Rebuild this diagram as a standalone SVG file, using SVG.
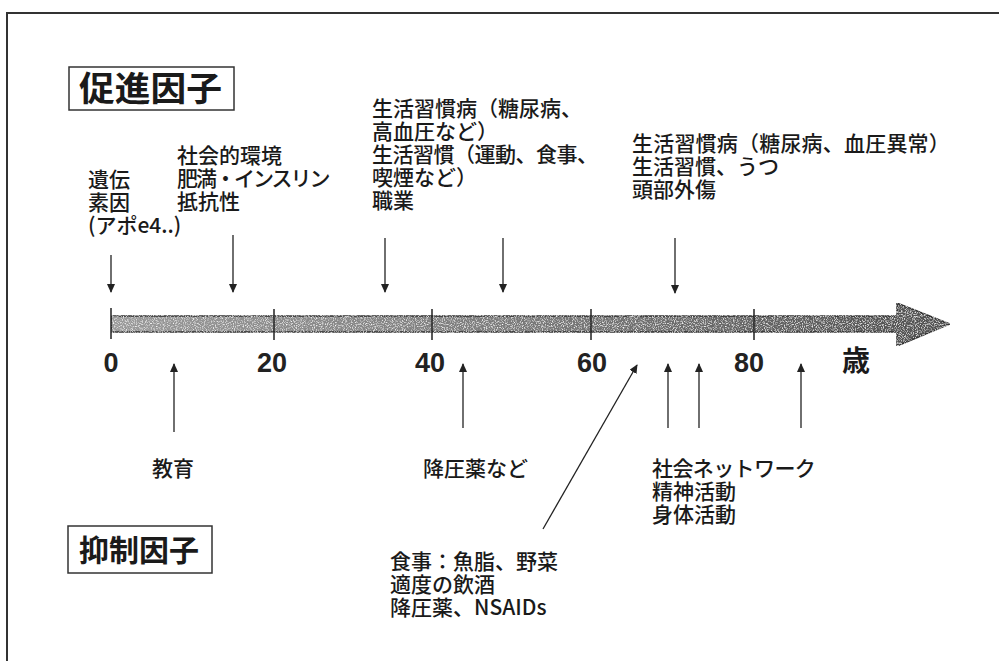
<svg xmlns="http://www.w3.org/2000/svg" width="999" height="661" viewBox="0 0 999 661">
<defs>
<style>
.t{font-family:"Noto Sans CJK JP","Noto Sans",sans-serif;font-size:21px;font-weight:500;fill:#1a1a1a}
.h{font-family:"Noto Sans CJK JP","Noto Sans",sans-serif;font-weight:bold;fill:#1a1a1a}
.n{font-family:"Liberation Sans",Arial,sans-serif;font-weight:bold;font-size:27px;fill:#222;text-anchor:middle}
.c{stroke:#222;stroke-width:1.3;fill:none;marker-end:url(#ah)}
.box{fill:#fff;stroke:#333;stroke-width:1.5}
.tick{stroke:#222;stroke-width:1.5}
</style>
<marker id="ah" markerUnits="userSpaceOnUse" markerWidth="9" markerHeight="8" refX="8" refY="4" orient="auto">
<path d="M0,0 L9,4 L0,8 Z" fill="#222"/>
</marker>
<linearGradient id="bg" x1="0" y1="0" x2="1" y2="0">
<stop offset="0" stop-color="#9a9a9a"/>
<stop offset="0.6" stop-color="#727272"/>
<stop offset="1" stop-color="#505050"/>
</linearGradient>
<filter id="speck" x="0" y="0" width="1" height="1">
<feTurbulence type="fractalNoise" baseFrequency="0.9" numOctaves="2" seed="3" result="n"/>
<feColorMatrix in="n" type="matrix" values="0 0 0 0 1  0 0 0 0 1  0 0 0 0 1  0 0 0 -2.4 1.25" result="w"/>
<feComposite in="w" in2="SourceGraphic" operator="in" result="wi"/>
<feMerge><feMergeNode in="SourceGraphic"/><feMergeNode in="wi"/></feMerge>
</filter>
</defs>
<rect width="999" height="661" fill="#fff"/>
<path d="M7,661 V13 H999" fill="none" stroke="#333" stroke-width="2"/>

<g id="axis">
<path d="M111,316 H897 V303 L950,324 L897,346 V332 H111 Z" fill="url(#bg)" stroke="#333" stroke-width="1.5" filter="url(#speck)"/>
<line class="tick" x1="111" y1="308" x2="111" y2="339"/>
<line class="tick" x1="274" y1="309" x2="274" y2="340"/>
<line class="tick" x1="432" y1="309" x2="432" y2="340"/>
<line class="tick" x1="591" y1="309" x2="591" y2="340"/>
<line class="tick" x1="754" y1="309" x2="754" y2="340"/>
<text class="n" x="111" y="372">0</text>
<text class="n" x="272" y="372">20</text>
<text class="n" x="430" y="372">40</text>
<text class="n" x="592" y="372">60</text>
<text class="n" x="749" y="372">80</text>
<text class="h" x="842" y="371" font-size="28">歳</text>
</g>

<g id="promote-header">
<rect class="box" x="69" y="67" width="165" height="43"/>
<text class="h" x="79" y="101" font-size="34" textLength="143" lengthAdjust="spacingAndGlyphs">促進因子</text>
</g>
<g id="suppress-header">
<rect class="box" x="68" y="526" width="144" height="47"/>
<text class="h" x="79" y="561" font-size="30">抑制因子</text>
</g>

<g id="genetic">
<text class="t"><tspan x="88" y="187">遺伝</tspan><tspan x="88" y="210">素因</tspan><tspan x="88" y="233">(アポe4..)</tspan></text>
</g>
<g id="social-env">
<text class="t"><tspan x="177" y="163">社会的環境</tspan><tspan x="177" y="186" letter-spacing="-2">肥満・インスリン</tspan><tspan x="177" y="209">抵抗性</tspan></text>
</g>
<g id="lifestyle-mid">
<text class="t"><tspan x="372" y="116">生活習慣病（糖尿病、</tspan><tspan x="372" y="139">高血圧など）</tspan><tspan x="372" y="162" letter-spacing="-0.5">生活習慣（運動、食事、</tspan><tspan x="372" y="185">喫煙など）</tspan><tspan x="372" y="208">職業</tspan></text>
</g>
<g id="lifestyle-late">
<text class="t"><tspan x="632" y="151" letter-spacing="0.2">生活習慣病（糖尿病、血圧異常）</tspan><tspan x="632" y="174">生活習慣、うつ</tspan><tspan x="632" y="197">頭部外傷</tspan></text>
</g>
<g id="education">
<text class="t" x="152" y="476">教育</text>
</g>
<g id="antihypertensive">
<text class="t" x="423" y="476">降圧薬など</text>
</g>
<g id="diet">
<text class="t"><tspan x="390" y="569">食事：魚脂、野菜</tspan><tspan x="390" y="592">適度の飲酒</tspan><tspan x="390" y="615">降圧薬、NSAIDs</tspan></text>
</g>
<g id="activity">
<text class="t"><tspan x="652" y="476" letter-spacing="-0.6">社会ネットワーク</tspan><tspan x="652" y="499">精神活動</tspan><tspan x="652" y="522">身体活動</tspan></text>
</g>

<g id="connectors">
<line class="c" x1="111" y1="255" x2="111" y2="292"/>
<line class="c" x1="233" y1="235" x2="233" y2="292"/>
<line class="c" x1="385" y1="238" x2="385" y2="292"/>
<line class="c" x1="503" y1="238" x2="503" y2="292"/>
<line class="c" x1="675" y1="238" x2="675" y2="293"/>
<line class="c" x1="174" y1="432" x2="174" y2="364"/>
<line class="c" x1="463" y1="428" x2="463" y2="364"/>
<line class="c" x1="543" y1="529" x2="637" y2="365"/>
<line class="c" x1="668" y1="428" x2="668" y2="364"/>
<line class="c" x1="699" y1="428" x2="699" y2="364"/>
<line class="c" x1="801" y1="428" x2="801" y2="364"/>
</g>
</svg>
